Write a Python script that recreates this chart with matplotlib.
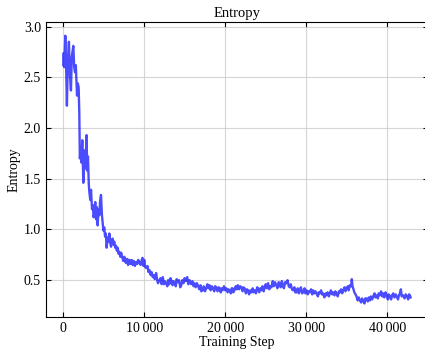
import matplotlib
matplotlib.use("Agg")
import matplotlib.pyplot as plt
from matplotlib.ticker import FuncFormatter

# training curve
steps = [
    0, 60, 130, 250, 330, 450, 560, 700, 800, 950, 1050, 1240, 1350, 1450, 1550, 1700,
    1800, 1900, 1980, 2050, 2150, 2250, 2350, 2475, 2600, 2750, 2880, 2950, 3050, 3150,
    3220, 3340, 3430, 3550, 3650, 3750, 3840, 3950, 4050, 4150, 4250, 4350, 4450, 4550,
    4660, 4770, 4870, 4950, 5060, 5160, 5260, 5360, 5480, 5590, 5690, 5800, 5900, 6000,
    6100, 6200, 6300, 6410, 6510, 6620, 6720, 6830, 6930, 7050, 7150, 7300, 7400, 7550,
    7650, 7760, 7900, 8000, 8170, 8300, 8450, 8580, 8700, 8850, 9000, 9150, 9250, 9400,
    9550, 9700, 9780, 9900, 10000, 10120, 10240, 10400, 10520, 10640, 10800, 10900, 11050,
    11200, 11300, 11470, 11600, 11700, 11880, 12000, 12150, 12290, 12450, 12550, 12710,
    12850, 12950, 13100, 13250, 13330, 13500, 13600, 13740, 13900, 14000, 14150, 14300,
    14450, 14570, 14700, 14850, 14980, 15150, 15300, 15450, 15600, 15800, 15950, 16100,
    16210, 16350, 16500, 16620, 16800, 16950, 17050, 17200, 17350, 17500, 17660, 17800,
    17950, 18070, 18200, 18350, 18480, 18650, 18750, 18900, 19050, 19200, 19310, 19450,
    19550, 19680, 19850, 20000, 20130, 20300, 20400, 20540, 20700, 20800, 20910, 21000,
    21140, 21300, 21450, 21560, 21700, 21850, 21990, 22150, 22250, 22400, 22550, 22700,
    22810, 22950, 23100, 23230, 23400, 23500, 23640, 23800, 23950, 24050, 24200, 24350,
    24470, 24600, 24750, 24880, 25000, 25150, 25290, 25450, 25550, 25710, 25870, 26000,
    26150, 26320, 26450, 26600, 26730, 26850, 27000, 27100, 27250, 27400, 27560, 27700,
    27850, 27970, 28100, 28250, 28380, 28550, 28650, 28800, 28950, 29100, 29210, 29350,
    29500, 29620, 29800, 29900, 30040, 30200, 30300, 30450, 30600, 30750, 30860, 31000,
    31150, 31270, 31450, 31550, 31680, 31850, 31950, 32090, 32250, 32400, 32510, 32650,
    32800, 32920, 33050, 33200, 33330, 33500, 33600, 33750, 33900, 34050, 34160, 34300,
    34450, 34570, 34750, 34850, 34990, 35150, 35250, 35400, 35550, 35640, 35720, 35810,
    35950, 36100, 36220, 36350, 36500, 36630, 36800, 36900, 37040, 37200, 37300, 37460,
    37600, 37750, 37870, 38000, 38150, 38280, 38450, 38550, 38700, 38850, 38950, 39110,
    39250, 39400, 39520, 39650, 39800, 39940, 40100, 40200, 40350, 40500, 40600, 40760,
    40900, 41050, 41170, 41350, 41450, 41580, 41700, 41800, 42000, 42150, 42300, 42450,
    42600, 42700, 42820, 42900,
]
entropy = [
    2.62, 2.74, 2.60, 2.91, 2.70, 2.22, 2.65, 2.85, 2.55, 2.37, 2.70, 2.81, 2.60, 2.55, 2.62, 2.32,
    2.44, 2.40, 2.15, 1.70, 1.80, 1.66, 1.88, 1.46, 1.78, 1.60, 1.93, 1.58, 1.72, 1.45,
    1.37, 1.29, 1.39, 1.20, 1.24, 1.12, 1.16, 1.27, 1.10, 1.22, 1.04, 1.20, 1.14, 1.28,
    1.34, 1.15, 1.06, 0.99, 1.02, 0.93, 0.96, 0.82, 0.92, 0.88, 0.96, 0.87, 0.83, 0.90,
    0.91, 0.85, 0.88, 0.82, 0.84, 0.79, 0.82, 0.76, 0.78, 0.73, 0.77, 0.72, 0.69, 0.73,
    0.68, 0.67, 0.71, 0.65, 0.70, 0.66, 0.70, 0.65, 0.69, 0.64, 0.68, 0.66, 0.70, 0.68,
    0.65, 0.70, 0.72, 0.64, 0.70, 0.63, 0.62, 0.64, 0.58, 0.60, 0.55, 0.58, 0.53,
    0.55, 0.51, 0.57, 0.50, 0.47, 0.50, 0.52, 0.46, 0.53, 0.46, 0.49, 0.47,
    0.44, 0.50, 0.46, 0.52, 0.50, 0.45, 0.49, 0.48, 0.44, 0.51, 0.48, 0.50,
    0.43, 0.45, 0.50, 0.47, 0.52, 0.49, 0.53, 0.46, 0.50, 0.46, 0.49, 0.44,
    0.47, 0.43, 0.47, 0.45, 0.41, 0.45, 0.39, 0.40, 0.44, 0.39, 0.42, 0.46,
    0.42, 0.45, 0.40, 0.44, 0.42, 0.39, 0.44, 0.43, 0.39, 0.43, 0.42, 0.38,
    0.42, 0.40, 0.44, 0.40, 0.42, 0.38, 0.41, 0.40, 0.37, 0.42, 0.42, 0.38,
    0.40, 0.44, 0.41, 0.45, 0.41, 0.44, 0.43, 0.39, 0.43, 0.42, 0.37, 0.41,
    0.40, 0.36, 0.40, 0.38, 0.42, 0.38, 0.40, 0.37, 0.43, 0.42, 0.38, 0.42,
    0.40, 0.44, 0.39, 0.43, 0.46, 0.42, 0.47, 0.41, 0.44, 0.43, 0.49, 0.44,
    0.48, 0.45, 0.42, 0.48, 0.47, 0.43, 0.49, 0.45, 0.42, 0.48, 0.47, 0.50,
    0.44, 0.43, 0.46, 0.41, 0.40, 0.43, 0.38, 0.38, 0.42, 0.37, 0.40, 0.43,
    0.37, 0.38, 0.42, 0.37, 0.40, 0.36, 0.39, 0.38, 0.41, 0.36, 0.40, 0.37,
    0.39, 0.37, 0.34, 0.38, 0.37, 0.40, 0.36, 0.37, 0.33, 0.37, 0.35, 0.38,
    0.34, 0.37, 0.40, 0.36, 0.38, 0.35, 0.39, 0.37, 0.34, 0.39, 0.38, 0.41,
    0.37, 0.40, 0.43, 0.39, 0.42, 0.44, 0.40, 0.45, 0.44, 0.51, 0.44, 0.42,
    0.38, 0.36, 0.34, 0.30, 0.33, 0.30, 0.28, 0.32, 0.30, 0.27, 0.32, 0.32,
    0.29, 0.33, 0.30, 0.34, 0.31, 0.34, 0.37, 0.33, 0.35, 0.32, 0.37, 0.35,
    0.39, 0.34, 0.37, 0.33, 0.38, 0.35, 0.31, 0.36, 0.34, 0.31, 0.35, 0.37,
    0.33, 0.36, 0.34, 0.31, 0.35, 0.37, 0.41, 0.34, 0.35, 0.32, 0.36, 0.34,
    0.31, 0.36, 0.35, 0.33,
]

plt.rcParams['font.family'] = ['Liberation Serif', 'DejaVu Serif']


def thousands(v, pos):
    return f"{int(v):,}".replace(",", "\u2009")


fig = plt.figure(figsize=(4.25, 3.49), dpi=100)
ax = fig.add_axes([0.108, 0.092, 0.899, 0.844])

ax.plot(steps, entropy, color="blue", alpha=0.7, lw=1.7)

ax.set_title("Entropy", fontsize=10.5, pad=4)
ax.set_xlabel("Training Step", fontsize=10, labelpad=1)
ax.set_ylabel("Entropy", fontsize=10, labelpad=2)

ax.xaxis.set_major_formatter(FuncFormatter(thousands))
ax.set_xticks([0, 10000, 20000, 30000, 40000])
ax.set_yticks([0.5, 1.0, 1.5, 2.0, 2.5, 3.0])
ax.tick_params(direction="in", top=True, right=True, labelsize=10)
ax.grid(True, color="#cccccc", lw=0.8, alpha=0.8)

fig.savefig("out.png", dpi=100)
